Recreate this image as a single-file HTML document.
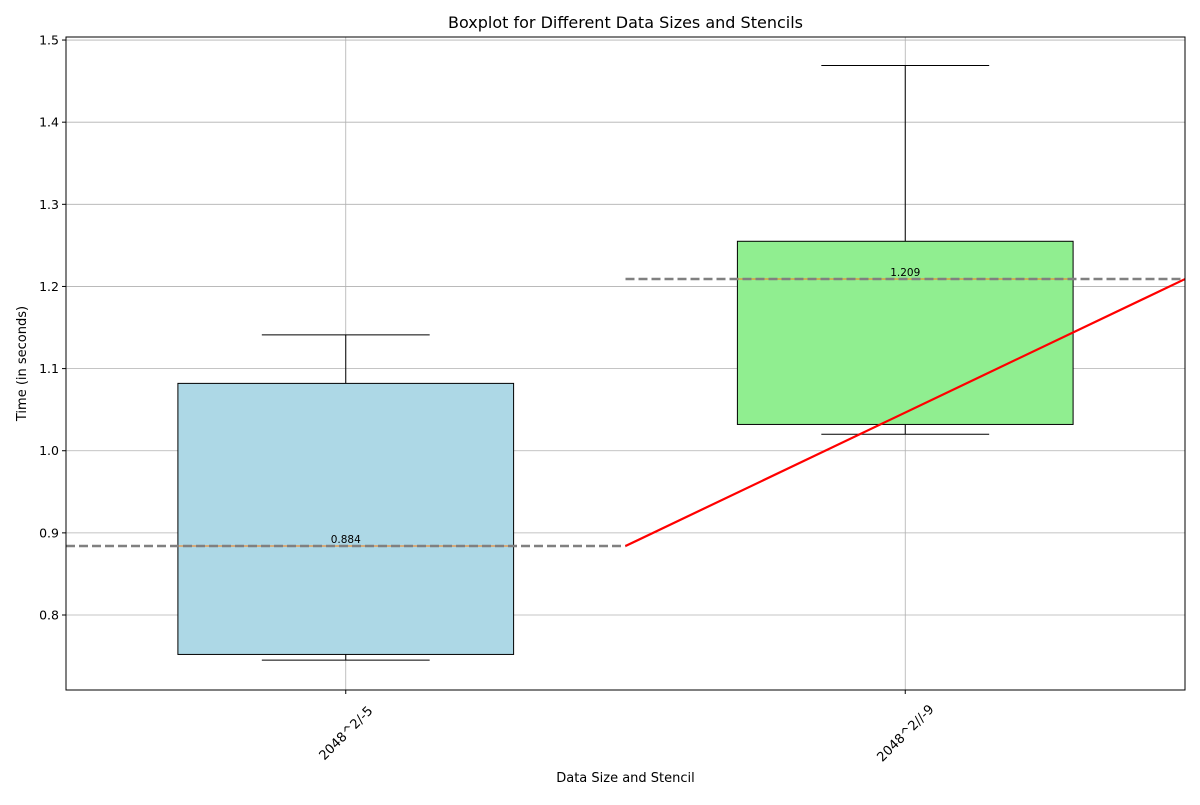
<!DOCTYPE html>
<html><head><meta charset="utf-8"><style>
body{margin:0;background:#fff}
text{font-family:"DejaVu Sans","Liberation Sans",sans-serif}
</style></head><body>
<svg id="chart" width="1200" height="800" xmlns="http://www.w3.org/2000/svg">
<rect width="1200" height="800" fill="#fff"/>
<g id="grid"></g>
<g id="marks"></g>
<g id="axes"></g>
</svg>
<script>
const categories=["2048^2/-5","2048^2//-9"];
const q1=[0.752,1.032];
const q3=[1.082,1.255];
const whiskLow=[0.745,1.020];
const whiskHigh=[1.141,1.469];
const medians=[0.884,1.209];
const colors=["#add8e6","#90ee90"];
const yTicks=[0.8,0.9,1.0,1.1,1.2,1.3,1.4,1.5];
const L=66,R=1185,T=37,B=690;
const xMin=0.5,xMax=2.5,yMin=0.7087,yMax=1.5037;
const X=v=>L+(v-xMin)/(xMax-xMin)*(R-L);
const Y=v=>B-(v-yMin)/(yMax-yMin)*(B-T);
const NS="http://www.w3.org/2000/svg";
function mk(parent,tag,attrs,text){const e=document.createElementNS(NS,tag);for(const k in attrs)e.setAttribute(k,attrs[k]);if(text!==undefined)e.textContent=text;document.getElementById(parent).appendChild(e);return e;}
yTicks.forEach((t,i)=>{
 const g=mk('grid','line',{x1:L,x2:R,y1:Y(t),y2:Y(t),stroke:'#b0b0b0','stroke-width':0.8});
 
 
 const tk=mk('axes','line',{x1:L-4,x2:L,y1:Y(t),y2:Y(t),stroke:'#000'});
 
 
 const tl=mk('axes','text',{x:L-7,y:Y(t)+4.5,'text-anchor':'end','font-size':12.5},t.toFixed(1));
 
 
});
categories.forEach((c,i)=>{
 const x=X(i+1);
 const g=mk('grid','line',{x1:x,x2:x,y1:T,y2:B,stroke:'#b0b0b0','stroke-width':0.8});
 
 
 const tk=mk('axes','line',{x1:x,x2:x,y1:B,y2:B+4,stroke:'#000'});
 
 
 const cx=x,cy=B+43;
 const tl=mk('axes','text',{x:cx,y:cy+4.5,'text-anchor':'middle','font-size':13,transform:`rotate(-45 ${cx} ${cy})`},c);
 
 
});
categories.forEach((c,i)=>{
 const p=i+1,xl=X(p-0.3),xr=X(p+0.3),cl=X(p-0.15),cr=X(p+0.15),xc=X(p);
 const w1=mk('marks','line',{x1:xc,x2:xc,y1:Y(q1[i]),y2:Y(whiskLow[i]),stroke:'#000'});
 
 
 const w2=mk('marks','line',{x1:xc,x2:xc,y1:Y(q3[i]),y2:Y(whiskHigh[i]),stroke:'#000'});
 
 
 const c1=mk('marks','line',{x1:cl,x2:cr,y1:Y(whiskLow[i]),y2:Y(whiskLow[i]),stroke:'#000'});
 
 
 const c2=mk('marks','line',{x1:cl,x2:cr,y1:Y(whiskHigh[i]),y2:Y(whiskHigh[i]),stroke:'#000'});
 
 
 const b=mk('marks','rect',{x:xl,y:Y(q3[i]),width:xr-xl,height:Y(q1[i])-Y(q3[i]),fill:colors[i],stroke:'#000'});
 
 
 const m=mk('marks','line',{x1:xl,x2:xr,y1:Y(medians[i]),y2:Y(medians[i]),stroke:'#ff7f0e'});
 
 
 const d=mk('marks','line',{x1:X(p-0.5),x2:X(p+0.5),y1:Y(medians[i]),y2:Y(medians[i]),stroke:'#808080','stroke-width':2.5,'stroke-dasharray':'9,4'});
 
 
 const t=mk('marks','text',{x:xc,y:Y(medians[i])-3,'text-anchor':'middle','font-size':10.5},medians[i].toFixed(3));
 
 
});
const tr=mk('marks','line',{x1:X(1.5),y1:Y(medians[0]),x2:X(2.5),y2:Y(medians[1]),stroke:'#ff0000','stroke-width':2.2});


const fr=mk('axes','rect',{x:L,y:T,width:R-L,height:B-T,fill:'none',stroke:'#000','stroke-width':1});


const ti=mk('axes','text',{x:(L+R)/2,y:28,'text-anchor':'middle','font-size':16},'Boxplot for Different Data Sizes and Stencils');


const xt=mk('axes','text',{x:(L+R)/2,y:782,'text-anchor':'middle','font-size':13},'Data Size and Stencil');


const yt=mk('axes','text',{x:26,y:(T+B)/2,'text-anchor':'middle','font-size':13,transform:`rotate(-90 26 ${(T+B)/2})`},'Time (in seconds)');


</script>
</body></html>
